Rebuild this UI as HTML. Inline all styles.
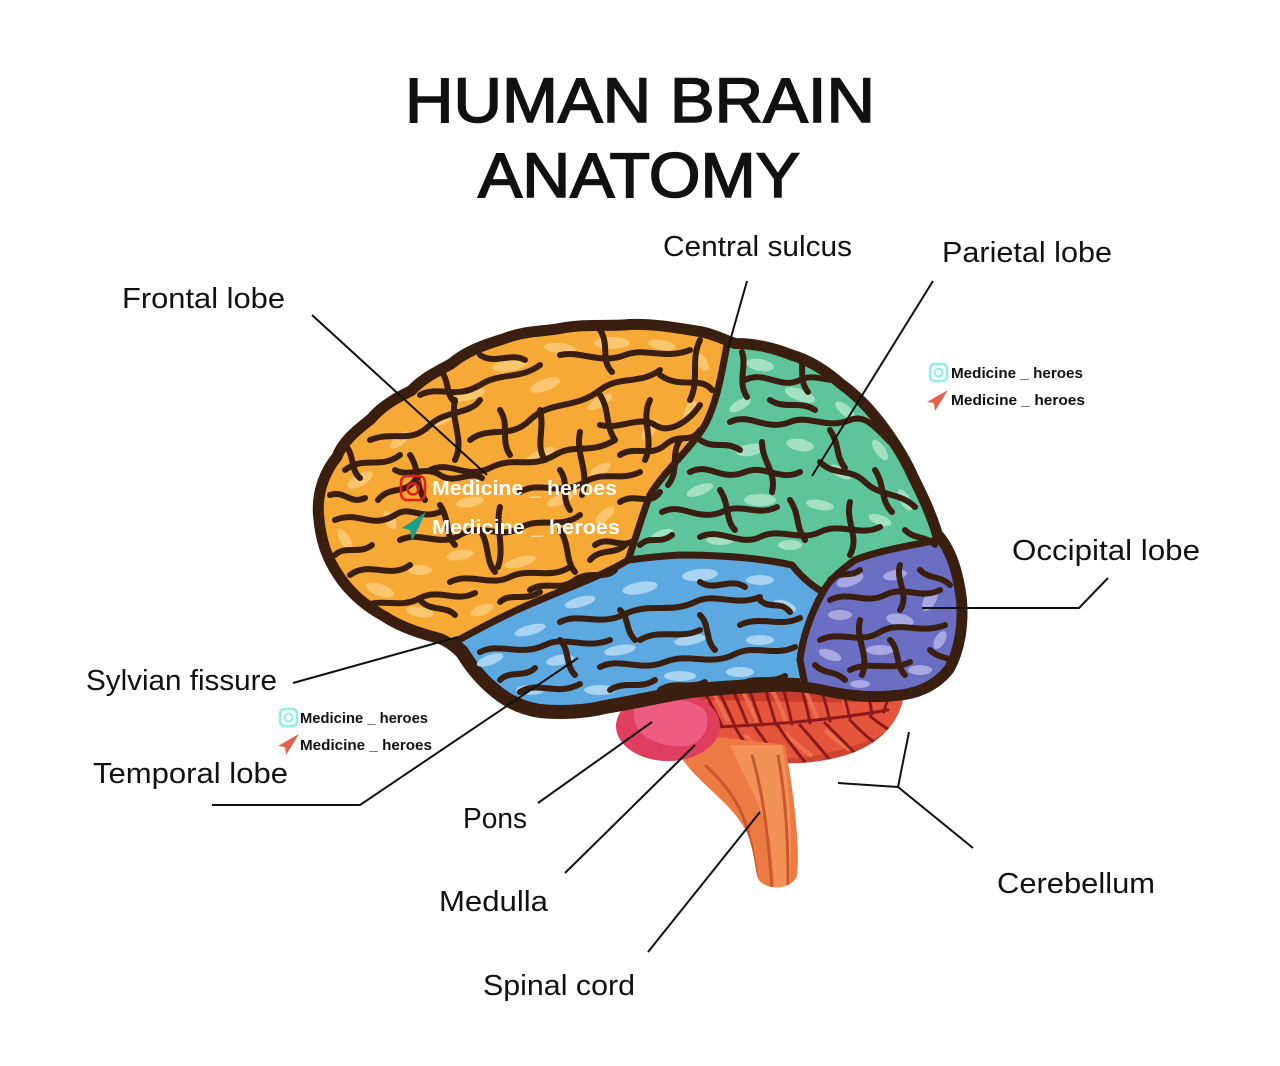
<!DOCTYPE html>
<html><head><meta charset="utf-8"><style>
html,body{margin:0;padding:0;background:#fff;}
svg{display:block;}
</style></head><body>
<svg width="1280" height="1066" viewBox="0 0 1280 1066" xmlns="http://www.w3.org/2000/svg">
<defs>
<clipPath id="brain">
<path d="M320,515 C318,490 328,470 338,458 C345,440 360,430 372,420 C385,405 400,398 412,392 C425,378 440,372 452,365 C470,350 490,345 505,340 C525,332 545,333 560,330 C585,325 610,328 630,326 C655,325 680,330 700,333 C715,336 725,342 735,345 C755,345 775,350 790,356 C810,362 825,372 840,385 C858,398 870,412 880,425 C895,445 905,462 912,478 C922,498 930,515 936,535 C950,550 957,575 960,600 C962,625 958,650 948,668 C935,685 915,693 895,694 C870,697 845,694 820,688 C805,685 790,684 770,685 C740,687 710,688 685,692 C655,697 630,703 605,707 C585,712 560,713 540,711 C520,708 505,700 492,688 C480,678 470,665 462,652 C455,645 448,640 440,637 C420,632 400,625 385,615 C365,604 350,590 340,575 C328,557 322,540 320,515 Z"/>
</clipPath>
<clipPath id="cb"><path d="M688,682 L905,682 C905,720 880,758 800,763 C745,765 710,745 690,715 Z"/></clipPath>
<clipPath id="bs"><path d="M700,735 C690,750 680,755 683,760 C700,785 735,805 748,835 C755,855 755,870 758,878 C762,890 792,892 797,875 C800,850 795,800 785,745 Z"/></clipPath>
</defs>

<!-- Title -->
<g font-family="Liberation Sans, Arial, sans-serif" font-weight="400" fill="#111" stroke="#111" stroke-width="1.6">
<text x="405" y="122" font-size="63" textLength="470" lengthAdjust="spacingAndGlyphs">HUMAN BRAIN</text>
<text x="478" y="197" font-size="63" textLength="322" lengthAdjust="spacingAndGlyphs">ANATOMY</text>
</g>

<!-- Cerebellum -->
<path d="M688,682 L905,682 C905,720 880,758 800,763 C745,765 710,745 690,715 Z" fill="#e4553c"/>
<g clip-path="url(#cb)">
<path d="M680,680 L910,680 L910,700 C850,705 760,700 680,700 Z" fill="#c83d2d"/>
<path d="M700,745 C760,770 850,760 905,720 L910,770 L690,770 Z" fill="#cf4431"/>
<g stroke="#f07656" stroke-width="4" fill="none" opacity="0.8">
<path d="M712,690 Q720,705 728,722"/><path d="M742,690 Q750,705 757,722"/><path d="M772,690 Q780,705 786,721"/><path d="M805,690 Q812,705 818,720"/><path d="M840,690 Q845,703 850,716"/>
<path d="M745,735 Q758,748 772,758"/><path d="M785,733 Q798,746 812,756"/><path d="M825,730 Q838,742 850,750"/>
</g>
<g stroke="#8c1a1b" stroke-width="3" fill="none" stroke-linecap="round">
<path d="M715,727 C760,725 820,722 888,710"/>
<path d="M700,684 Q712,705 722,726"/><path d="M715,684 Q726,705 735,726"/><path d="M730,684 Q740,705 748,726"/>
<path d="M747,684 Q755,705 762,725"/><path d="M764,684 Q770,705 776,725"/><path d="M782,684 Q788,705 792,724"/>
<path d="M800,684 Q806,702 810,723"/><path d="M820,686 Q826,703 830,721"/><path d="M842,688 Q846,703 850,718"/>
<path d="M868,690 Q870,702 872,714"/><path d="M890,694 Q886,703 884,712"/>
<path d="M735,727 Q745,745 758,760"/><path d="M755,727 Q768,745 780,762"/><path d="M778,726 Q790,744 805,762"/>
<path d="M800,725 Q815,742 830,760"/><path d="M825,723 Q840,738 855,753"/><path d="M850,720 Q862,733 875,743"/><path d="M870,716 Q882,726 893,732"/>
</g>
</g>

<!-- Brainstem -->
<path d="M700,735 C690,750 680,755 683,760 C700,785 735,805 748,835 C755,855 755,870 758,878 C762,890 792,892 797,875 C800,850 795,800 785,745 Z" fill="#ee7a43"/>
<g clip-path="url(#bs)">
<path d="M730,745 C745,780 760,800 770,840 L775,890 L790,890 C792,850 792,800 782,745 Z" fill="#f39257"/>
<g stroke="#c6592e" stroke-width="3" fill="none">
<path d="M705,765 C730,788 745,810 752,848 L758,885"/>
<path d="M752,755 C762,790 768,830 772,890"/>
<path d="M778,755 C786,800 788,840 788,885"/>
</g>
</g>

<!-- Pons -->
<ellipse cx="668" cy="726" rx="52" ry="35" fill="#e03e5f"/>
<path d="M640,702 C660,695 695,698 706,712 C712,728 700,745 685,746 C665,748 640,740 635,722 C632,712 634,705 640,702 Z" fill="#ee5c84"/>

<!-- Cerebrum -->
<path d="M320,515 C318,490 328,470 338,458 C345,440 360,430 372,420 C385,405 400,398 412,392 C425,378 440,372 452,365 C470,350 490,345 505,340 C525,332 545,333 560,330 C585,325 610,328 630,326 C655,325 680,330 700,333 C715,336 725,342 735,345 C755,345 775,350 790,356 C810,362 825,372 840,385 C858,398 870,412 880,425 C895,445 905,462 912,478 C922,498 930,515 936,535 C950,550 957,575 960,600 C962,625 958,650 948,668 C935,685 915,693 895,694 C870,697 845,694 820,688 C805,685 790,684 770,685 C740,687 710,688 685,692 C655,697 630,703 605,707 C585,712 560,713 540,711 C520,708 505,700 492,688 C480,678 470,665 462,652 C455,645 448,640 440,637 C420,632 400,625 385,615 C365,604 350,590 340,575 C328,557 322,540 320,515 Z" fill="#5ca8e0" stroke="#3a1f10" stroke-width="14" stroke-linejoin="round"/>

<g clip-path="url(#brain)">
<path d="M300,300 L727,300 L727,345 C722,370 718,400 705,425 C690,450 665,470 650,495 C642,515 637,535 628,560 C610,572 575,585 540,600 C510,612 480,628 455,642 L300,700 Z" fill="#f6a935"/>
<path d="M727,300 L1000,300 L1000,540 L937,540 C910,546 880,550 855,560 C838,572 828,582 823,592 C810,585 800,575 792,565 C760,558 720,555 680,555 C660,556 645,558 628,560 C637,535 642,515 650,495 C665,470 690,450 705,425 C718,400 722,370 727,345 Z" fill="#5ec49b"/>
<path d="M937,540 L1000,540 L1000,720 L800,720 L800,660 C802,640 810,615 823,592 C828,582 838,572 855,560 C880,550 910,546 937,540 Z" fill="#6b6fc4"/>

<g fill="#fcc66e">
<ellipse cx="360" cy="480" rx="14" ry="6" transform="rotate(-30 360 480)"/>
<ellipse cx="345" cy="540" rx="12" ry="5" transform="rotate(60 345 540)"/>
<ellipse cx="380" cy="590" rx="15" ry="6" transform="rotate(20 380 590)"/>
<ellipse cx="420" cy="612" rx="14" ry="5" transform="rotate(10 420 612)"/>
<ellipse cx="400" cy="440" rx="12" ry="5" transform="rotate(-40 400 440)"/>
<ellipse cx="440" cy="420" rx="14" ry="5" transform="rotate(-20 440 420)"/>
<ellipse cx="470" cy="395" rx="16" ry="5" transform="rotate(-15 470 395)"/>
<ellipse cx="510" cy="365" rx="18" ry="6" transform="rotate(-10 510 365)"/>
<ellipse cx="560" cy="348" rx="16" ry="5" transform="rotate(5 560 348)"/>
<ellipse cx="612" cy="343" rx="18" ry="6"/>
<ellipse cx="662" cy="345" rx="14" ry="5" transform="rotate(10 662 345)"/>
<ellipse cx="702" cy="362" rx="10" ry="5" transform="rotate(60 702 362)"/>
<ellipse cx="545" cy="385" rx="16" ry="6" transform="rotate(-20 545 385)"/>
<ellipse cx="600" cy="402" rx="14" ry="5" transform="rotate(-30 600 402)"/>
<ellipse cx="650" cy="430" rx="12" ry="5" transform="rotate(-50 650 430)"/>
<ellipse cx="690" cy="410" rx="10" ry="5" transform="rotate(-60 690 410)"/>
<ellipse cx="470" cy="502" rx="14" ry="5" transform="rotate(-10 470 502)"/>
<ellipse cx="540" cy="455" rx="16" ry="5" transform="rotate(-25 540 455)"/>
<ellipse cx="600" cy="470" rx="12" ry="5" transform="rotate(-30 600 470)"/>
<ellipse cx="560" cy="500" rx="14" ry="5" transform="rotate(-20 560 500)"/>
<ellipse cx="605" cy="515" rx="12" ry="5" transform="rotate(-40 605 515)"/>
<ellipse cx="460" cy="555" rx="14" ry="5" transform="rotate(-10 460 555)"/>
<ellipse cx="520" cy="562" rx="16" ry="5" transform="rotate(-15 520 562)"/>
<ellipse cx="482" cy="610" rx="12" ry="5" transform="rotate(-20 482 610)"/>
<ellipse cx="420" cy="570" rx="12" ry="5"/>
<ellipse cx="390" cy="520" rx="10" ry="5" transform="rotate(60 390 520)"/>
</g>
<g fill="#a3e0c4">
<ellipse cx="760" cy="365" rx="14" ry="6" transform="rotate(10 760 365)"/>
<ellipse cx="800" cy="395" rx="16" ry="6" transform="rotate(20 800 395)"/>
<ellipse cx="845" cy="410" rx="12" ry="5" transform="rotate(40 845 410)"/>
<ellipse cx="880" cy="450" rx="12" ry="5" transform="rotate(55 880 450)"/>
<ellipse cx="905" cy="500" rx="12" ry="5" transform="rotate(60 905 500)"/>
<ellipse cx="750" cy="450" rx="14" ry="6" transform="rotate(-10 750 450)"/>
<ellipse cx="800" cy="445" rx="14" ry="6" transform="rotate(10 800 445)"/>
<ellipse cx="840" cy="472" rx="12" ry="5" transform="rotate(30 840 472)"/>
<ellipse cx="700" cy="490" rx="14" ry="5" transform="rotate(-20 700 490)"/>
<ellipse cx="760" cy="500" rx="16" ry="6"/>
<ellipse cx="820" cy="505" rx="14" ry="5" transform="rotate(10 820 505)"/>
<ellipse cx="880" cy="520" rx="12" ry="5" transform="rotate(20 880 520)"/>
<ellipse cx="662" cy="535" rx="12" ry="5" transform="rotate(-20 662 535)"/>
<ellipse cx="720" cy="540" rx="14" ry="5"/>
<ellipse cx="790" cy="545" rx="12" ry="5"/>
<ellipse cx="740" cy="405" rx="12" ry="5" transform="rotate(-30 740 405)"/>
</g>
<g fill="#a9d3f2">
<ellipse cx="490" cy="660" rx="14" ry="5" transform="rotate(-20 490 660)"/>
<ellipse cx="530" cy="630" rx="16" ry="5" transform="rotate(-15 530 630)"/>
<ellipse cx="580" cy="602" rx="16" ry="5" transform="rotate(-15 580 602)"/>
<ellipse cx="640" cy="588" rx="18" ry="6" transform="rotate(-10 640 588)"/>
<ellipse cx="700" cy="575" rx="18" ry="6" transform="rotate(-5 700 575)"/>
<ellipse cx="760" cy="580" rx="14" ry="5"/>
<ellipse cx="785" cy="606" rx="12" ry="5" transform="rotate(20 785 606)"/>
<ellipse cx="560" cy="660" rx="14" ry="5" transform="rotate(-10 560 660)"/>
<ellipse cx="620" cy="650" rx="16" ry="5" transform="rotate(-10 620 650)"/>
<ellipse cx="690" cy="640" rx="16" ry="5" transform="rotate(-10 690 640)"/>
<ellipse cx="760" cy="640" rx="14" ry="5"/>
<ellipse cx="530" cy="690" rx="14" ry="5"/>
<ellipse cx="600" cy="690" rx="16" ry="5"/>
<ellipse cx="680" cy="676" rx="16" ry="5"/>
<ellipse cx="740" cy="672" rx="14" ry="5"/>
</g>
<g fill="#a9a7e1">
<ellipse cx="850" cy="580" rx="14" ry="6" transform="rotate(-20 850 580)"/>
<ellipse cx="895" cy="575" rx="12" ry="5" transform="rotate(-10 895 575)"/>
<ellipse cx="930" cy="600" rx="12" ry="6" transform="rotate(-60 930 600)"/>
<ellipse cx="840" cy="615" rx="12" ry="5"/>
<ellipse cx="900" cy="620" rx="14" ry="6" transform="rotate(10 900 620)"/>
<ellipse cx="940" cy="640" rx="10" ry="5" transform="rotate(-60 940 640)"/>
<ellipse cx="830" cy="655" rx="12" ry="5" transform="rotate(20 830 655)"/>
<ellipse cx="880" cy="650" rx="14" ry="5"/>
<ellipse cx="920" cy="670" rx="12" ry="5"/>
<ellipse cx="860" cy="684" rx="10" ry="4"/>
</g>

<g stroke="#3a1f10" stroke-width="6" fill="none" stroke-linecap="round" stroke-linejoin="round">
<path d="M345,470 C365,455 380,470 400,455"/>
<path d="M335,520 C360,510 370,530 395,515 C410,505 420,520 440,512"/>
<path d="M350,575 C370,560 390,580 410,565"/>
<path d="M370,440 C395,430 410,445 430,425 C445,410 470,415 480,400"/>
<path d="M420,395 C440,385 455,400 480,385 C500,372 520,380 540,365"/>
<path d="M470,440 C490,425 510,440 530,420 C550,400 575,410 600,390 C620,375 640,385 660,370"/>
<path d="M560,355 C580,350 600,365 625,355 C645,347 665,360 690,350"/>
<path d="M430,470 C450,460 465,480 490,468 C515,455 530,470 555,455 C575,443 590,455 615,440"/>
<path d="M600,425 C620,430 640,415 655,425 C670,435 690,420 700,405"/>
<path d="M660,375 C680,390 700,375 712,390"/>
<path d="M360,608 C380,596 400,610 420,598 C440,588 455,603 475,593"/>
<path d="M400,540 C420,530 440,548 460,535 C480,522 500,540 520,528 C540,516 560,530 580,515"/>
<path d="M450,582 C470,572 490,587 510,577 C530,567 550,580 570,567"/>
<path d="M520,492 C540,480 560,497 585,482 C605,470 620,482 640,472"/>
<path d="M595,545 C610,535 620,550 635,540"/>
<path d="M378,500 C390,485 405,495 415,480"/>
<path d="M500,602 C510,592 525,602 540,592"/>
<path d="M620,502 C635,492 650,507 660,492"/>
<path d="M455,400 C450,420 465,440 455,460"/>
<path d="M580,432 C575,455 590,470 582,495"/>
<path d="M650,400 C640,420 655,440 645,460"/>
<path d="M500,507 C495,527 505,547 498,567"/>
<path d="M410,455 C420,470 415,485 425,500"/>
<path d="M540,410 C545,430 535,445 545,460"/>
<path d="M330,495 C345,490 350,505 365,498"/>
<path d="M335,555 C345,545 360,555 372,545"/>
<path d="M395,470 C410,478 425,465 440,475 C455,485 470,470 482,478"/>
<path d="M365,615 C375,625 390,618 400,628"/>
<path d="M440,505 C450,520 445,535 455,545"/>
<path d="M480,530 C490,545 485,560 495,572"/>
<path d="M530,590 C545,580 560,592 575,580 C590,570 605,580 615,570"/>
<path d="M560,530 C570,545 565,560 575,572"/>
<path d="M590,560 C600,548 615,555 625,545"/>
<path d="M620,455 C635,445 650,458 665,445 C680,432 690,445 700,430"/>
<path d="M600,395 C610,410 605,425 615,440"/>
<path d="M500,410 C510,425 500,440 510,455"/>
<path d="M480,355 C495,365 510,352 525,360"/>
<path d="M600,330 C610,345 600,360 612,372"/>
<path d="M700,340 C690,360 700,380 690,400"/>
<path d="M680,440 C670,455 680,470 668,485"/>
<path d="M420,600 C430,612 445,605 455,615"/>
<path d="M345,445 C355,455 350,470 360,478"/>
<path d="M560,470 C570,485 560,495 570,510"/>
<path d="M440,370 C450,380 445,395 455,402"/>
<!-- green -->
<path d="M745,380 C765,370 780,390 800,380 C815,372 830,385 845,378"/>
<path d="M730,422 C750,412 765,432 790,422 C810,414 825,430 850,420 C865,414 875,427 890,442"/>
<path d="M690,472 C710,462 720,482 745,472 C765,464 780,482 800,472"/>
<path d="M662,512 C682,502 697,522 722,512 C742,502 757,517 777,507"/>
<path d="M820,462 C835,477 850,467 865,482 C880,497 900,492 915,507"/>
<path d="M700,537 C720,527 740,547 760,537 C780,527 800,542 820,532 C840,522 860,537 880,527"/>
<path d="M762,442 C762,462 777,472 772,492"/>
<path d="M850,502 C845,522 860,537 850,555"/>
<path d="M742,352 C747,367 737,382 747,397"/>
<path d="M770,400 C785,410 800,400 815,410"/>
<path d="M700,440 C715,450 725,440 740,450"/>
<path d="M875,470 C885,485 880,500 892,512"/>
<path d="M800,350 C805,365 798,380 808,392"/>
<path d="M640,545 C650,535 660,545 672,535"/>
<path d="M720,490 C730,505 725,520 735,530"/>
<path d="M790,500 C800,515 795,525 805,540"/>
<path d="M905,530 C915,540 925,535 935,545"/>
<path d="M830,430 C840,445 835,455 845,468"/>
<!-- blue -->
<path d="M480,652 C500,642 520,657 545,645 C565,635 585,650 610,640"/>
<path d="M520,692 C540,680 555,697 580,684"/>
<path d="M560,622 C580,612 600,627 625,614 C650,602 670,614 695,602 C715,592 735,607 760,597"/>
<path d="M600,667 C620,657 640,672 665,662 C690,652 710,667 735,654 C755,644 775,657 795,647"/>
<path d="M640,640 C660,628 680,640 700,630"/>
<path d="M700,582 C715,592 730,577 745,587"/>
<path d="M740,625 C760,615 780,628 800,618"/>
<path d="M660,690 C675,680 690,690 705,682"/>
<path d="M500,680 C510,670 525,678 535,668"/>
<path d="M620,610 C630,620 625,630 635,640"/>
<path d="M700,615 C710,625 705,640 715,650"/>
<path d="M560,640 C570,650 565,665 575,675"/>
<path d="M760,600 C770,610 780,600 790,612"/>
<path d="M740,685 C755,675 770,685 785,676"/>
<path d="M610,690 C625,680 640,690 655,680"/>
<!-- purple -->
<path d="M830,600 C850,590 865,605 885,595 C905,585 920,600 940,590"/>
<path d="M820,640 C840,630 860,645 880,632 C900,620 920,635 945,625"/>
<path d="M850,670 C870,660 890,672 910,662"/>
<path d="M900,565 C895,580 910,595 900,610"/>
<path d="M860,620 C855,640 870,655 862,675"/>
<path d="M830,580 C840,570 850,578 860,570"/>
<path d="M920,570 C930,580 940,575 950,585"/>
<path d="M890,640 C900,650 895,665 905,675"/>
<path d="M930,650 C940,660 950,655 955,665"/>
<path d="M815,665 C825,675 835,670 845,680"/>
</g>

<g stroke="#3a1f10" stroke-width="7" fill="none" stroke-linecap="round" stroke-linejoin="round">
<path d="M727,345 C722,370 718,400 705,425 C690,450 665,470 650,495 C642,515 637,535 628,560 C610,572 575,585 540,600 C510,612 480,628 455,642"/>
<path d="M628,560 C645,558 660,556 680,555 C720,555 760,558 792,565 C800,575 810,585 823,592 C828,582 838,572 855,560 C880,550 910,546 937,540"/>
<path d="M823,592 C810,615 802,640 800,660 L805,685"/>
</g>
</g>

<path d="M320,515 C318,490 328,470 338,458 C345,440 360,430 372,420 C385,405 400,398 412,392 C425,378 440,372 452,365 C470,350 490,345 505,340 C525,332 545,333 560,330 C585,325 610,328 630,326 C655,325 680,330 700,333 C715,336 725,342 735,345 C755,345 775,350 790,356 C810,362 825,372 840,385 C858,398 870,412 880,425 C895,445 905,462 912,478 C922,498 930,515 936,535 C950,550 957,575 960,600 C962,625 958,650 948,668 C935,685 915,693 895,694 C870,697 845,694 820,688 C805,685 790,684 770,685 C740,687 710,688 685,692 C655,697 630,703 605,707 C585,712 560,713 540,711 C520,708 505,700 492,688 C480,678 470,665 462,652 C455,645 448,640 440,637 C420,632 400,625 385,615 C365,604 350,590 340,575 C328,557 322,540 320,515 Z" fill="none" stroke="#3a1f10" stroke-width="8" stroke-linejoin="round"/>

<g stroke="#111" stroke-width="2" fill="none">
<path d="M312,315 L487,475"/>
<path d="M747,281 L728,348"/>
<path d="M933,281 L812,476"/>
<path d="M1108,578 L1079,608 L922,608"/>
<path d="M293,683 L458,637"/>
<path d="M212,805 L360,805 L578,658"/>
<path d="M538,803 L652,722"/>
<path d="M565,873 L695,745"/>
<path d="M648,952 L760,812"/>
<path d="M973,848 L898,787 L838,783"/>
<path d="M898,787 L909,732"/>
</g>

<g font-family="Liberation Sans, Arial, sans-serif" font-size="29" fill="#111">
<text x="122" y="308" textLength="163" lengthAdjust="spacingAndGlyphs">Frontal lobe</text>
<text x="663" y="256" textLength="189" lengthAdjust="spacingAndGlyphs">Central sulcus</text>
<text x="942" y="262" textLength="170" lengthAdjust="spacingAndGlyphs">Parietal lobe</text>
<text x="1012" y="560" textLength="188" lengthAdjust="spacingAndGlyphs">Occipital lobe</text>
<text x="86" y="690" textLength="191" lengthAdjust="spacingAndGlyphs">Sylvian fissure</text>
<text x="93" y="783" textLength="195" lengthAdjust="spacingAndGlyphs">Temporal lobe</text>
<text x="463" y="828" textLength="64" lengthAdjust="spacingAndGlyphs">Pons</text>
<text x="439" y="911" textLength="109" lengthAdjust="spacingAndGlyphs">Medulla</text>
<text x="483" y="995" textLength="152" lengthAdjust="spacingAndGlyphs">Spinal cord</text>
<text x="997" y="893" textLength="158" lengthAdjust="spacingAndGlyphs">Cerebellum</text>
</g>

<g font-family="Liberation Sans, Arial, sans-serif" font-weight="700">
<rect x="401" y="476" width="24" height="24" rx="6" fill="none" stroke="#e41e1e" stroke-width="2.5"/>
<circle cx="413" cy="489" r="5.5" fill="none" stroke="#e41e1e" stroke-width="2.5"/>
<circle cx="420" cy="481" r="1.5" fill="#e41e1e"/>
<path d="M426,512 L402,528 L410,530 L412,541 Z" fill="#1e9e8c"/>
<text x="432" y="495" font-size="20" fill="#fff" textLength="185" lengthAdjust="spacingAndGlyphs">Medicine _ heroes</text>
<text x="432" y="534" font-size="20" fill="#fff" textLength="188" lengthAdjust="spacingAndGlyphs">Medicine _ heroes</text>
<rect x="930" y="364" width="17" height="17" rx="4.5" fill="none" stroke="#8eeeee" stroke-width="2.5"/>
<circle cx="938.5" cy="372.5" r="4" fill="none" stroke="#8eeeee" stroke-width="2"/>
<path d="M948,390 L927,402 L934,403 L935,411 Z" fill="#e8604a"/>
<text x="951" y="378" font-size="14.5" fill="#111" textLength="132" lengthAdjust="spacingAndGlyphs">Medicine _ heroes</text>
<text x="951" y="405" font-size="14.5" fill="#111" textLength="134" lengthAdjust="spacingAndGlyphs">Medicine _ heroes</text>
<rect x="280" y="709" width="17" height="17" rx="4.5" fill="none" stroke="#8eeeee" stroke-width="2.5"/>
<circle cx="288.5" cy="717.5" r="4" fill="none" stroke="#8eeeee" stroke-width="2"/>
<path d="M299,734 L278,746 L285,747 L286,755 Z" fill="#e8604a"/>
<text x="300" y="723" font-size="14.5" fill="#111" textLength="128" lengthAdjust="spacingAndGlyphs">Medicine _ heroes</text>
<text x="300" y="750" font-size="14.5" fill="#111" textLength="132" lengthAdjust="spacingAndGlyphs">Medicine _ heroes</text>
</g>
</svg>
</body></html>
